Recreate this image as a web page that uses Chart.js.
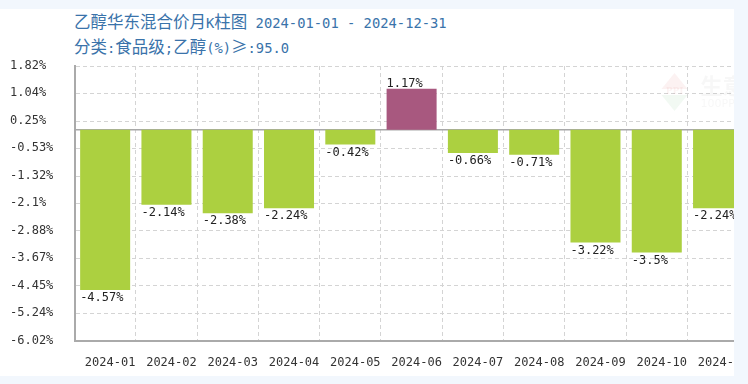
<!DOCTYPE html>
<html><head><meta charset="utf-8">
<script src="https://cdn.jsdelivr.net/npm/chart.js@4.4.1/dist/chart.umd.min.js"></script>
<style>
html,body{margin:0;padding:0;background:#f2f7fd;width:748px;height:384px;overflow:hidden;}
#panel{position:absolute;left:0;top:9px;width:734px;height:367px;background:#fff;overflow:hidden;}
#wrap{position:absolute;left:0;top:-9px;width:830px;height:376px;}
.t{position:absolute;left:74px;white-space:nowrap;color:#3a73aa;font-family:"DejaVu Sans Mono",monospace;font-size:13.8px;line-height:20px;}
.cjk{font-family:"Noto Sans CJK SC";font-size:16.5px;}
</style></head>
<body>
<div id="panel">
  <div class="t" style="top:2px"><span class="cjk">乙醇华东混合价月</span>K<span class="cjk">柱图</span> 2024-01-01 - 2024-12-31</div>
  <div class="t" style="top:27px"><span class="cjk">分类</span>:<span class="cjk">食品级</span>;<span class="cjk">乙醇</span>(%)<span class="cjk">≥</span>:95.0</div>
  <div id="wrap"><canvas id="c" width="830" height="376"></canvas></div>
</div>
<script>
const categories = ['2024-01','2024-02','2024-03','2024-04','2024-05','2024-06','2024-07','2024-08','2024-09','2024-10','2024-11','2024-12'];
const changeValues = [-4.57,-2.14,-2.38,-2.24,-0.42,1.17,-0.66,-0.71,-3.22,-3.5,-2.24,null];
const yTickLabels = ['1.82%','1.04%','0.25%','-0.53%','-1.32%','-2.1%','-2.88%','-3.67%','-4.45%','-5.24%','-6.02%'];
const yTickValues = yTickLabels.map(s => parseFloat(s));

const monoFont = '"DejaVu Sans Mono", monospace';

const zeroLine = {
  id: 'zeroLine',
  beforeDatasetsDraw(chart) {
    const {ctx, chartArea, scales: {y}} = chart;
    const py = y.getPixelForValue(0);
    ctx.save();
    ctx.strokeStyle = '#a8a8a8';
    ctx.lineWidth = 1.5;
    ctx.beginPath();
    ctx.moveTo(chartArea.left, py);
    ctx.lineTo(chartArea.right, py);
    ctx.stroke();
    ctx.restore();
  }
};

const watermark = {
  id: 'watermark',
  beforeDatasetsDraw(chart) {
    const {ctx, chartArea} = chart;
    const cx = chartArea.left + 600, cy = chartArea.top + 25;
    ctx.save();
    ctx.globalAlpha = 0.06;
    ctx.fillStyle = '#d0202a';
    ctx.beginPath();
    ctx.moveTo(cx, cy - 18); ctx.lineTo(cx + 13, cy - 2); ctx.lineTo(cx - 13, cy - 2); ctx.closePath(); ctx.fill();
    ctx.fillStyle = '#2a9a3a';
    ctx.beginPath();
    ctx.moveTo(cx - 13, cy + 4); ctx.lineTo(cx + 13, cy + 4); ctx.lineTo(cx, cy + 20); ctx.closePath(); ctx.fill();
    ctx.fillStyle = '#c03030';
    ctx.font = 'bold 9px "DejaVu Serif"';
    ctx.textAlign = 'center'; ctx.textBaseline = 'middle';
    ctx.fillText('PPI', cx, cy + 1);
    ctx.fillStyle = '#707070';
    ctx.textAlign = 'left';
    ctx.font = 'bold 22px "Noto Sans CJK SC"';
    ctx.fillText('生意社', cx + 26, cy - 5);
    ctx.font = '11px "DejaVu Sans"';
    ctx.fillText('100PPI.COM', cx + 26, cy + 13);
    ctx.restore();
  }
};

const barLabels = {
  id: 'barLabels',
  afterDatasetsDraw(chart) {
    const {ctx} = chart;
    const meta = chart.getDatasetMeta(0);
    ctx.save();
    ctx.font = '12px ' + monoFont;
    ctx.fillStyle = '#222';
    ctx.textAlign = 'left';
    ctx.textBaseline = 'middle';
    meta.data.forEach((bar, i) => {
      const v = changeValues[i];
      if (v === null || v === undefined) return;
      const x = bar.x - bar.width / 2;
      const y = v < 0 ? bar.y + 8 : bar.y - 5;
      ctx.fillText(v + '%', x, y);
    });
    ctx.restore();
  }
};

new Chart(document.getElementById('c'), {
  type: 'bar',
  data: {
    labels: categories,
    datasets: [{
      data: changeValues,
      backgroundColor: changeValues.map(v => v !== null && v >= 0 ? '#a8587f' : '#acd040'),
      categoryPercentage: 1,
      barPercentage: 0.816
    }]
  },
  options: {
    responsive: false,
    animation: false,
    devicePixelRatio: 1,
    layout: {padding: {left: 10, top: 66, right: 20, bottom: 0}},
    plugins: {legend: {display: false}, tooltip: {enabled: false}, title: {display: false}},
    scales: {
      x: {
        grid: {color: '#d4d4d4', drawTicks: false, lineWidth: 1},
        border: {color: '#aaaaaa', width: 2, dash: [4, 3]},
        ticks: {font: {family: monoFont, size: 12}, color: '#333', padding: 15, labelOffset: 5, maxRotation: 0, autoSkip: false},
        afterFit(s) { s.height = 35.3; }
      },
      y: {
        min: Math.min(...yTickValues),
        max: Math.max(...yTickValues),
        afterBuildTicks(s) { s.ticks = yTickValues.slice().sort((a, b) => a - b).map(v => ({value: v})); },
        grid: {color: '#d4d4d4', drawTicks: false, lineWidth: 1},
        border: {color: '#aaaaaa', width: 2, dash: [4, 3]},
        ticks: {
          font: {family: monoFont, size: 12}, color: '#333', crossAlign: 'far',
          callback: (v) => yTickLabels[yTickValues.indexOf(v)]
        },
        afterFit(s) { s.width = 64.5; }
      }
    }
  },
  plugins: [zeroLine, watermark, barLabels]
});
</script>
</body></html>
